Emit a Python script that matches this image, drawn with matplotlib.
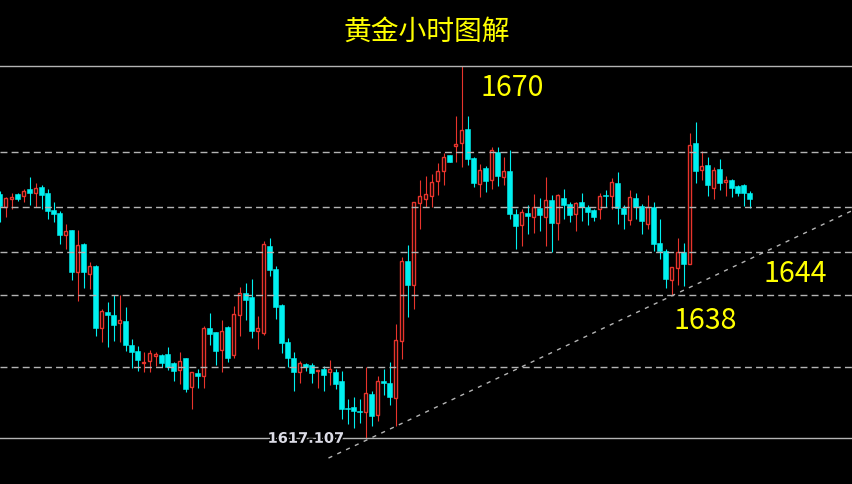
import matplotlib.pyplot as plt
import matplotlib.patheffects as pe
import numpy as np

# Datos (precio del oro, velas horarias)
opens = [
    1651.8, 1649.9, 1651.1, 1651.8, 1651.5, 1652.5, 1651.9, 1652.8, 1651.9, 1649.5,
    1649.1, 1646.0, 1646.7, 1640.7, 1644.7, 1640.4, 1641.6, 1632.8, 1635.0, 1634.6,
    1633.5, 1633.8, 1630.3, 1629.5, 1627.8, 1628.1, 1628.8, 1629.0, 1629.1, 1627.8,
    1626.8, 1628.5, 1624.4, 1626.4, 1626.0, 1632.8, 1632.2, 1629.6, 1632.9, 1628.9,
    1634.6, 1637.7, 1637.2, 1632.4, 1632.1, 1644.4, 1641.2, 1636.0, 1630.8, 1628.5,
    1626.5, 1627.6, 1627.5, 1626.6, 1626.9, 1626.5, 1626.5, 1625.2, 1621.4, 1621.6,
    1621.0, 1620.9, 1623.4, 1620.4, 1625.2, 1625.0, 1622.8, 1630.9, 1642.3, 1638.9,
    1650.5, 1651.1, 1651.5, 1653.7, 1655.0, 1657.3, 1658.6, 1659.0, 1661.0, 1656.9,
    1653.2, 1655.5, 1653.8, 1657.8, 1654.2, 1655.0, 1648.9, 1647.4, 1649.1, 1648.5,
    1649.8, 1648.5, 1651.0, 1647.7, 1651.2, 1650.4, 1648.9, 1650.6, 1649.9, 1649.5,
    1649.7, 1651.6, 1651.5, 1653.3, 1649.8, 1648.1, 1651.2, 1650.1, 1647.6, 1649.9,
    1644.8, 1643.7, 1639.6, 1641.3, 1643.6, 1641.9, 1659.0, 1655.2, 1655.9, 1652.7,
    1655.4, 1653.5, 1653.8, 1652.9, 1653.0, 1652.0]
highs = [
    1652.2, 1651.4, 1651.9, 1651.9, 1652.5, 1654.2, 1653.3, 1653.1, 1652.5, 1650.6,
    1649.4, 1647.5, 1646.7, 1646.7, 1644.8, 1642.1, 1641.7, 1635.5, 1636.4, 1637.4,
    1637.4, 1635.7, 1631.2, 1630.2, 1629.3, 1629.7, 1629.4, 1629.1, 1630.1, 1628.0,
    1629.3, 1628.5, 1626.5, 1626.9, 1633.0, 1634.9, 1632.2, 1633.9, 1633.1, 1635.9,
    1638.6, 1639.1, 1639.7, 1634.4, 1645.1, 1645.5, 1641.5, 1636.2, 1631.3, 1629.3,
    1628.1, 1627.8, 1627.8, 1626.8, 1627.4, 1628.2, 1627.0, 1626.7, 1622.7, 1622.9,
    1622.7, 1627.3, 1623.8, 1626.0, 1626.9, 1628.0, 1633.3, 1642.9, 1644.6, 1650.7,
    1653.8, 1654.4, 1654.6, 1656.2, 1657.6, 1657.3, 1662.8, 1670.0, 1662.9, 1657.0,
    1656.1, 1655.7, 1658.4, 1658.4, 1657.1, 1658.1, 1649.7, 1649.7, 1650.2, 1651.8,
    1651.2, 1654.2, 1651.6, 1651.8, 1652.5, 1650.6, 1650.7, 1651.9, 1650.2, 1649.7,
    1651.9, 1652.3, 1654.0, 1654.9, 1650.2, 1652.3, 1652.0, 1650.4, 1651.6, 1650.6,
    1648.2, 1644.0, 1641.4, 1645.6, 1644.8, 1660.4, 1662.0, 1657.9, 1657.0, 1655.6,
    1656.8, 1654.4, 1653.9, 1653.0, 1653.2, 1652.2]
lows = [
    1647.8, 1648.5, 1649.7, 1650.8, 1650.6, 1650.2, 1649.9, 1649.7, 1648.2, 1647.8,
    1644.7, 1644.0, 1639.6, 1636.6, 1638.4, 1638.3, 1631.6, 1630.8, 1630.1, 1630.9,
    1630.8, 1629.5, 1627.1, 1626.6, 1626.5, 1626.5, 1627.4, 1627.2, 1626.8, 1625.3,
    1624.8, 1623.7, 1621.2, 1624.2, 1624.2, 1630.3, 1627.5, 1626.5, 1627.9, 1628.5,
    1631.7, 1633.9, 1631.4, 1629.8, 1631.8, 1640.2, 1634.0, 1629.2, 1627.2, 1623.8,
    1625.0, 1626.7, 1625.0, 1624.2, 1623.8, 1624.7, 1624.1, 1619.9, 1619.1, 1618.5,
    1619.3, 1617.107, 1618.9, 1619.6, 1623.3, 1621.9, 1618.8, 1628.4, 1634.3, 1635.4,
    1646.8, 1649.9, 1650.0, 1651.6, 1653.0, 1656.4, 1656.4, 1655.6, 1655.9, 1652.8,
    1651.3, 1652.1, 1652.5, 1652.9, 1653.0, 1648.3, 1644.0, 1644.4, 1646.1, 1646.3,
    1646.6, 1644.4, 1643.6, 1645.3, 1648.2, 1647.8, 1646.6, 1647.9, 1647.4, 1648.0,
    1648.2, 1649.9, 1649.7, 1647.5, 1646.8, 1647.4, 1648.2, 1646.1, 1646.8, 1643.7,
    1642.6, 1638.4, 1637.5, 1638.8, 1638.7, 1641.9, 1653.4, 1653.8, 1651.5, 1651.1,
    1652.3, 1651.5, 1651.3, 1651.5, 1650.1, 1649.8]
closes = [
    1650.1, 1651.2, 1651.4, 1651.1, 1652.2, 1651.9, 1652.6, 1651.6, 1649.4, 1648.9,
    1646.0, 1646.5, 1640.7, 1644.5, 1640.7, 1641.6, 1632.8, 1635.2, 1634.6, 1633.2,
    1633.9, 1630.3, 1629.4, 1628.2, 1628.0, 1629.2, 1629.1, 1627.8, 1627.3, 1626.7,
    1628.1, 1624.1, 1626.5, 1626.0, 1632.8, 1631.9, 1629.5, 1632.4, 1628.5, 1634.7,
    1637.7, 1636.8, 1632.3, 1632.8, 1644.7, 1641.0, 1635.8, 1630.6, 1628.5, 1626.5,
    1627.8, 1627.3, 1626.4, 1626.8, 1626.1, 1626.9, 1624.8, 1621.3, 1621.2, 1621.0,
    1620.8, 1623.5, 1620.3, 1625.2, 1624.9, 1622.9, 1631.1, 1642.3, 1638.9, 1650.6,
    1651.5, 1651.8, 1653.5, 1655.0, 1657.1, 1656.4, 1658.9, 1660.9, 1656.7, 1653.4,
    1655.2, 1653.6, 1658.0, 1654.3, 1655.0, 1648.9, 1647.3, 1649.3, 1648.7, 1649.9,
    1648.8, 1651.0, 1647.7, 1651.6, 1650.2, 1648.8, 1650.5, 1649.9, 1649.3, 1648.5,
    1651.5, 1651.5, 1653.5, 1649.8, 1648.9, 1651.4, 1649.9, 1647.9, 1649.9, 1644.7,
    1643.7, 1639.7, 1641.4, 1643.6, 1641.9, 1658.8, 1655.1, 1655.7, 1653.0, 1655.2,
    1653.4, 1653.8, 1652.7, 1651.9, 1651.9, 1651.1]

# Lineas horizontales y linea de tendencia
solid_levels = [1670.0, 1617.107]
dashed_levels = [1657.7, 1649.9, 1643.6, 1637.5, 1627.3]
trend_x = [54.83, 142.3]
trend_y = [1614.3, 1649.5]

# Etiquetas de precio
label_texts = ['1670', '1638', '1644']
label_x = [80.1, 112.25, 127.25]
label_y = [1667.0, 1633.9, 1640.6]
low_text = '1617.107'
low_x = 51.1
low_y = 1617.107

title = '黄金小时图解'

BULL = '#e8342c'
BEAR = '#00f0f0'
GREY = '#b4b4b4'


def create_chart():
    plt.rcParams['font.family'] = ['Noto Sans CJK SC', 'DejaVu Sans']

    fig = plt.figure(figsize=(8.53, 4.85), dpi=100, facecolor='black')
    ax = fig.add_axes([0, 0, 1, 1])
    ax.set_facecolor('black')

    o = np.array(opens)
    c = np.array(closes)
    h = np.array(highs)
    l = np.array(lows)
    x = np.arange(len(o))
    up = c >= o

    # Mechas
    ax.vlines(x[up], l[up], h[up], color=BULL, lw=0.8, zorder=2)
    ax.vlines(x[~up], l[~up], h[~up], color=BEAR, lw=0.8, zorder=2)

    # Cuerpos: rojas huecas, cian rellenas
    ax.bar(x[up], c[up] - o[up], 0.56, bottom=o[up], facecolor='black',
           edgecolor=BULL, linewidth=1.0, zorder=3)
    ax.bar(x[~up], o[~up] - c[~up], 0.72, bottom=c[~up], facecolor=BEAR,
           edgecolor=BEAR, linewidth=0.4, zorder=3)

    # Lineas horizontales
    for lv in solid_levels:
        ax.axhline(lv, color=GREY, lw=1.0, zorder=4)
    for lv in dashed_levels:
        ax.axhline(lv, color=GREY, lw=1.0, linestyle=(0, (5, 3)), zorder=4)

    # Tendencia
    ax.plot(trend_x, trend_y, color=GREY, lw=1.0, linestyle=(0, (3, 4)), zorder=4)

    # Textos
    for t, tx, ty in zip(label_texts, label_x, label_y):
        ax.text(tx, ty, t, color='#ffff00', fontsize=20.5, ha='left', va='center', zorder=5)

    ax.text(low_x, low_y, low_text, color='#dcdce6', fontsize=10.5, fontweight='bold',
            family='DejaVu Sans', ha='center', va='center', zorder=5,
            path_effects=[pe.withStroke(linewidth=2.5, foreground='black')])

    fig.text(0.5, 1 - 32 / 485, title, color='#ffff00', fontsize=20,
             ha='center', va='center')

    ax.set_xlim(0.083, 142.25)
    ax.set_ylim(1610.62, 1679.47)
    ax.axis('off')

    fig.savefig('out.png', dpi=100, facecolor='black')


if __name__ == "__main__":
    create_chart()
